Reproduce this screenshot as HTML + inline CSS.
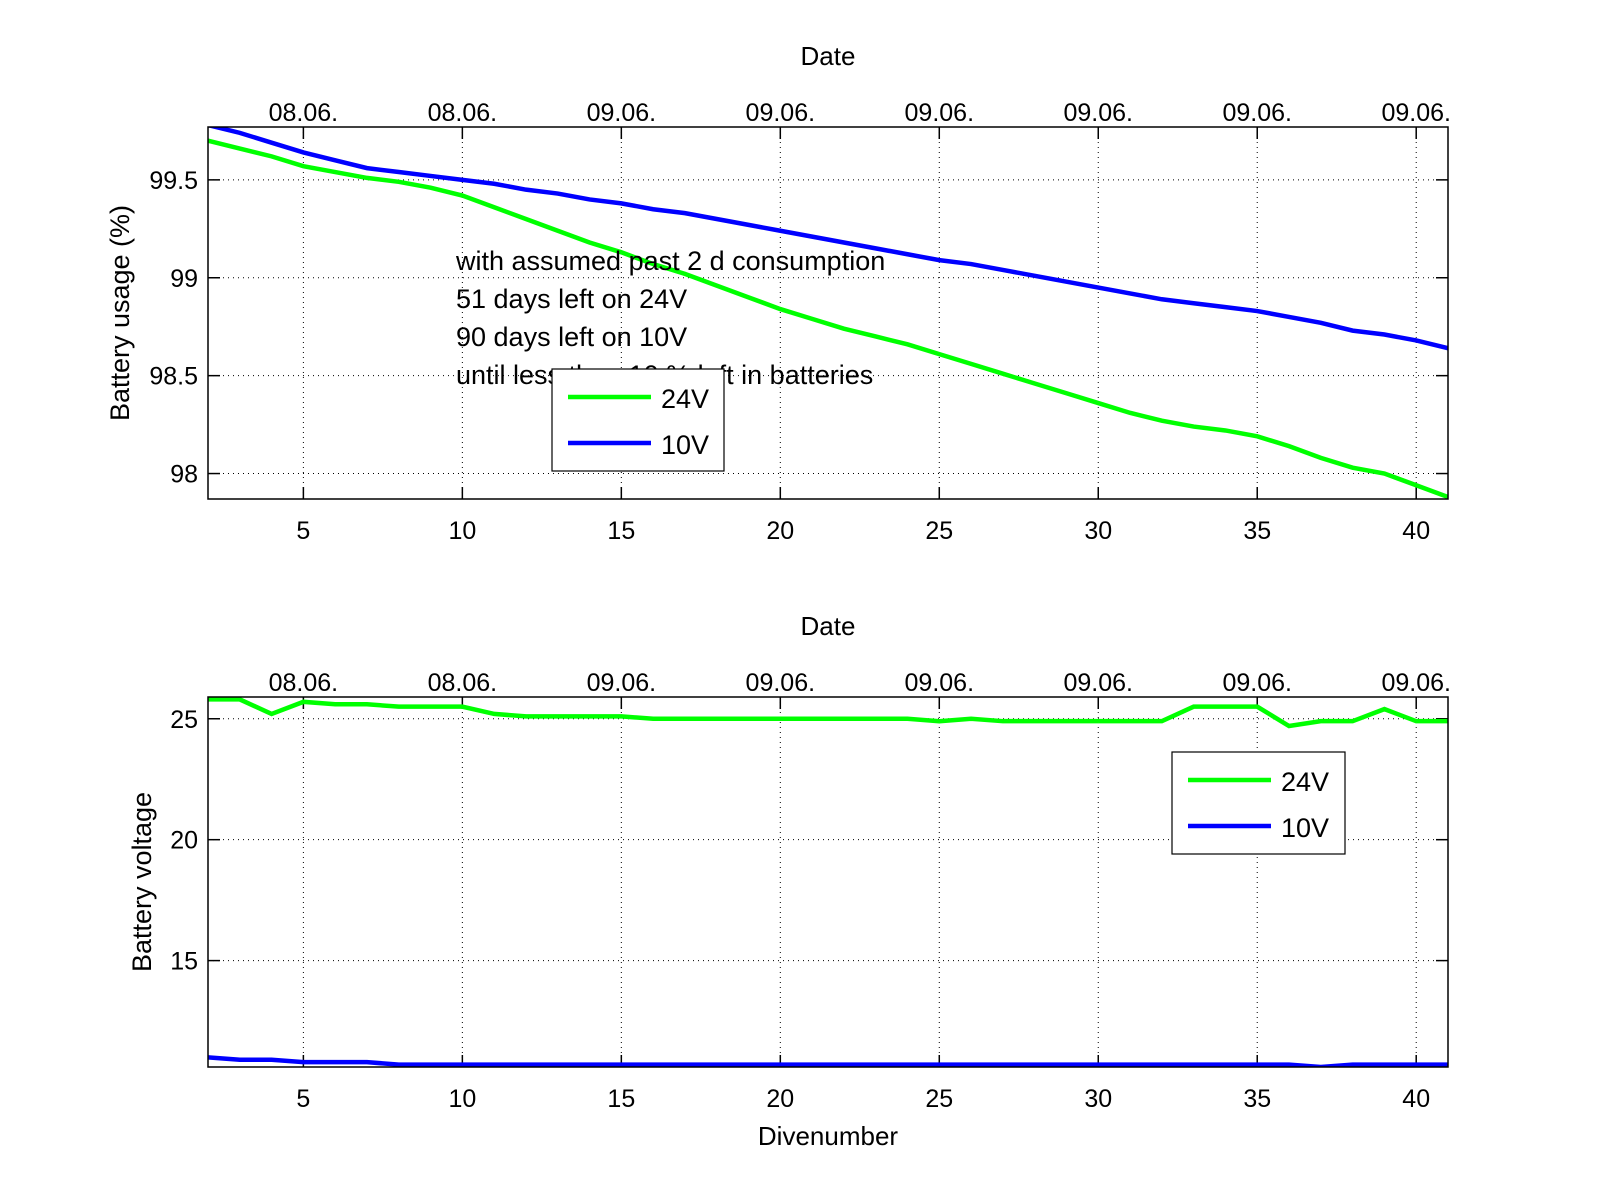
<!DOCTYPE html>
<html><head><meta charset="utf-8"><style>
body{margin:0;background:#fff;}
svg{display:block;font-family:"Liberation Sans",sans-serif;}
</style></head><body>
<svg id="c" width="1600" height="1200" viewBox="0 0 1600 1200"></svg>
<script>
const divenumbers=[2,3,4,5,6,7,8,9,10,11,12,13,14,15,16,17,18,19,20,21,22,23,24,25,26,27,28,29,30,31,32,33,34,35,36,37,38,39,40,41];
const usage24=[99.70,99.66,99.62,99.57,99.54,99.51,99.49,99.46,99.42,99.36,99.30,99.24,99.18,99.13,99.07,99.02,98.96,98.90,98.84,98.79,98.74,98.70,98.66,98.61,98.56,98.51,98.46,98.41,98.36,98.31,98.27,98.24,98.22,98.19,98.14,98.08,98.03,98.00,97.94,97.88];
const usage10=[99.78,99.74,99.69,99.64,99.60,99.56,99.54,99.52,99.50,99.48,99.45,99.43,99.40,99.38,99.35,99.33,99.30,99.27,99.24,99.21,99.18,99.15,99.12,99.09,99.07,99.04,99.01,98.98,98.95,98.92,98.89,98.87,98.85,98.83,98.80,98.77,98.73,98.71,98.68,98.64];
const volt24=[25.8,25.8,25.2,25.7,25.6,25.6,25.5,25.5,25.5,25.2,25.1,25.1,25.1,25.1,25.0,25.0,25.0,25.0,25.0,25.0,25.0,25.0,25.0,24.9,25.0,24.9,24.9,24.9,24.9,24.9,24.9,25.5,25.5,25.5,24.7,24.9,24.9,25.4,24.9,24.9];
const volt10=[11.0,10.9,10.9,10.8,10.8,10.8,10.7,10.7,10.7,10.7,10.7,10.7,10.7,10.7,10.7,10.7,10.7,10.7,10.7,10.7,10.7,10.7,10.7,10.7,10.7,10.7,10.7,10.7,10.7,10.7,10.7,10.7,10.7,10.7,10.7,10.6,10.7,10.7,10.7,10.7];
const xTicks=[5,10,15,20,25,30,35,40];
const dateLabels=["08.06.","08.06.","09.06.","09.06.","09.06.","09.06.","09.06.","09.06."];
const usageTicks=[98,98.5,99,99.5];
const usageTickLabels=["98","98.5","99","99.5"];
const voltTicks=[15,20,25];
const voltTickLabels=["15","20","25"];

const svg=document.getElementById('c');
const NS='http://www.w3.org/2000/svg';
function mk(tag,attrs,parent){const e=document.createElementNS(NS,tag);for(const k in attrs)e.setAttribute(k,attrs[k]);(parent||svg).appendChild(e);return e;}
function txt(s,x,y,anchor,size,parent){const t=mk('text',{x:x,y:y,'text-anchor':anchor,'font-size':size,fill:'#000'},parent);t.textContent=s;return t;}

const L=208,R=1448;
const xMin=2,xMax=41;
function xs(v){return L+(v-xMin)/(xMax-xMin)*(R-L);}

function panel(name,top,bot,yMin,yMax,ticks,tickLabels,s24,s10,ylabel,ylx,legend,xlabel){
  const g=mk('g',{});
  
  
  const ys=v=>bot-(v-yMin)/(yMax-yMin)*(bot-top);
  xTicks.forEach((t,i)=>{
    const l=mk('line',{x1:xs(t),x2:xs(t),y1:top,y2:bot,stroke:'#000','stroke-width':1,'stroke-dasharray':'1,4'},g);
    
    
    mk('line',{x1:xs(t),x2:xs(t),y1:bot,y2:bot-12,stroke:'#000','stroke-width':1.5},g);
    mk('line',{x1:xs(t),x2:xs(t),y1:top,y2:top+12,stroke:'#000','stroke-width':1.5},g);
    const a=txt(String(t),xs(t),bot+40,'middle',25,g);
    
    
    const d=txt(dateLabels[i],xs(t),top-6,'middle',25,g);
    
    
  });
  ticks.forEach((t,i)=>{
    const l=mk('line',{x1:L,x2:R,y1:ys(t),y2:ys(t),stroke:'#000','stroke-width':1,'stroke-dasharray':'1,4'},g);
    
    
    mk('line',{x1:L,x2:L+12,y1:ys(t),y2:ys(t),stroke:'#000','stroke-width':1.5},g);
    mk('line',{x1:R,x2:R-12,y1:ys(t),y2:ys(t),stroke:'#000','stroke-width':1.5},g);
    const a=txt(tickLabels[i],L-10,ys(t)+9,'end',25,g);
    
    
  });
  const cp=name+'-clip';
  const cl=mk('clipPath',{id:cp},g);mk('rect',{x:L,y:top,width:R-L,height:bot-top},cl);
  [[s24,'#00ff00','line-24v'],[s10,'#0000ff','line-10v']].forEach(([s,c,n])=>{
    const p=mk('polyline',{points:s.map((v,i)=>xs(divenumbers[i])+','+ys(v)).join(' '),fill:'none',stroke:c,'stroke-width':4.5,'clip-path':'url(#'+cp+')'},g);
    
    
  });
  const box=mk('rect',{x:L,y:top,width:R-L,height:bot-top,fill:'none',stroke:'#000','stroke-width':1.5},g);
  
  
  const dt=txt('Date',(L+R)/2,top-62,'middle',26,g);
  
  
  const yl=txt(ylabel,0,0,'middle',27,g);
  yl.setAttribute('transform','translate('+ylx+','+((top+bot)/2)+') rotate(-90)');
  
  
  if(xlabel){const xl=txt(xlabel,(L+R)/2,bot+78,'middle',26,g);
    
    }
  return {g,ys,legend};
}

const p1=panel('usage-panel',127,499,97.87,99.77,usageTicks,usageTickLabels,usage24,usage10,'Battery usage (%)',129,null,null);
const ann=['with assumed past 2 d consumption','51 days left on 24V','90 days left on 10V','until less than 10 % left in batteries'];
ann.forEach((s,i)=>{const t=txt(s,456,270+i*38,'start',27,p1.g);
  
  });
const p2=panel('voltage-panel',697,1067,10.6,25.9,voltTicks,voltTickLabels,volt24,volt10,'Battery voltage',151,null,'Divenumber');

function legend(x,y,w,h,name){
  const g=mk('g',{});
  
  
  mk('rect',{x:x,y:y,width:w,height:h,fill:'#fff',stroke:'#000','stroke-width':1.2},g);
  [['24V','#00ff00'],['10V','#0000ff']].forEach(([lab,c],i)=>{
    const yy=y+28+i*46;
    const e=mk('g',{},g);
    
    
    mk('line',{x1:x+16,x2:x+99,y1:yy,y2:yy,stroke:c,'stroke-width':4.5},e);
    txt(lab,x+109,yy+11,'start',27,e);
  });
}
legend(552,369,172,102,'usage-legend');
legend(1172,752,173,102,'voltage-legend');
</script>
</body></html>
